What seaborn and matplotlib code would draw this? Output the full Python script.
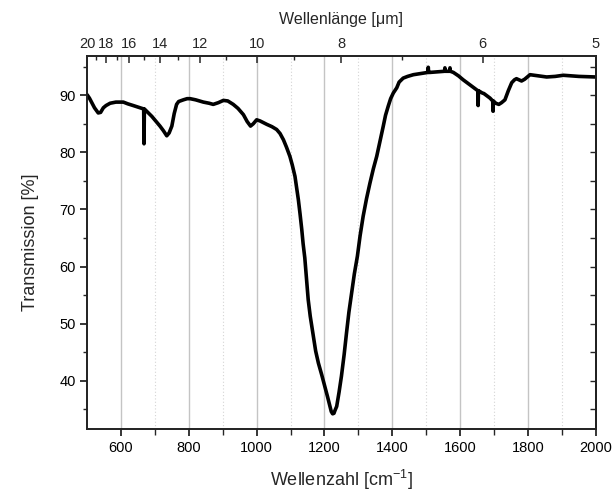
import matplotlib
matplotlib.use("Agg")
import matplotlib.pyplot as plt
import seaborn as sns
import pandas as pd
from matplotlib.ticker import FixedLocator, NullFormatter

# ---------------- data ----------------
wavenumber = [500, 507, 514, 522, 533, 540, 548, 556, 568, 585, 607, 620, 636, 661,
              667, 668, 669, 691, 715, 725, 735, 742, 750, 757, 764, 770, 784, 795,
              804, 820, 843, 860, 872, 887, 902, 915, 931, 945, 961, 972, 982, 990,
              1000, 1010, 1020, 1030, 1045, 1059, 1069, 1079, 1088, 1098, 1105, 1113,
              1118, 1123, 1128, 1133, 1137, 1142, 1147, 1152, 1158, 1167, 1174, 1182,
              1192, 1201, 1209, 1216, 1220, 1224, 1228, 1231, 1236, 1243, 1250, 1258,
              1265, 1272, 1280, 1288, 1297, 1305, 1314, 1324, 1334, 1344, 1354, 1364,
              1373, 1380, 1388, 1395, 1403, 1413, 1420, 1432, 1445, 1462, 1505, 1506,
              1507, 1511, 1554, 1555, 1556, 1560, 1569, 1570, 1571, 1580, 1595, 1609,
              1625, 1648, 1652, 1653, 1654, 1665, 1670, 1688, 1696, 1697, 1698, 1705,
              1714, 1722, 1732, 1742, 1752, 1760, 1766, 1781, 1790, 1806, 1830, 1855,
              1880, 1904, 1950, 2000]
transmission = [90.1, 89.5, 88.7, 87.8, 86.9, 87.0, 87.8, 88.2, 88.6, 88.8, 88.8, 88.5,
                88.2, 87.7, 87.6, 81.5, 87.6, 86.3, 84.6, 83.8, 82.9, 83.4, 84.6, 86.8,
                88.4, 88.9, 89.2, 89.4, 89.4, 89.2, 88.8, 88.6, 88.4, 88.7, 89.1, 89.0,
                88.4, 87.7, 86.6, 85.4, 84.6, 85.0, 85.7, 85.5, 85.2, 84.9, 84.5, 84.0,
                83.3, 82.2, 80.9, 79.3, 77.8, 75.8, 73.8, 71.7, 69.2, 66.5, 64.0, 61.5,
                57.8, 54.2, 51.3, 47.8, 45.2, 43.1, 41.0, 39.0, 37.2, 35.5, 34.6, 34.2,
                34.3, 34.8, 35.5, 38.0, 40.8, 44.6, 48.4, 52.0, 55.4, 58.7, 61.8, 65.4,
                68.8, 71.9, 74.6, 77.1, 79.3, 82.0, 84.5, 86.5, 88.1, 89.4, 90.4, 91.3,
                92.3, 93.0, 93.3, 93.6, 94.0, 94.9, 94.0, 94.0, 94.2, 94.8, 94.2, 94.2,
                94.2, 94.8, 94.2, 94.0, 93.4, 92.7, 92.0, 91.0, 90.8, 88.2, 90.8, 90.4,
                90.3, 89.5, 89.0, 87.2, 89.0, 88.6, 88.4, 88.7, 89.2, 90.8, 92.2, 92.7,
                92.9, 92.5, 92.8, 93.6, 93.4, 93.2, 93.3, 93.5, 93.3, 93.2]

x_major = [600, 800, 1000, 1200, 1400, 1600, 1800, 2000]
x_minor = [700, 900, 1100, 1300, 1500, 1700, 1900]
y_major = [40, 50, 60, 70, 80, 90]
y_minor = [35, 45, 55, 65, 75, 85, 95]
wl_major = [20, 18, 16, 14, 12, 10, 8, 6, 5]
wl_minor = [19, 17, 15, 13, 11, 9, 7]

# ---------------- style ----------------
sns.set_style("ticks")
plt.rcParams["font.family"] = ["Liberation Sans", "DejaVu Sans"]
plt.rcParams["mathtext.fontset"] = "custom"
plt.rcParams["mathtext.rm"] = "Liberation Sans"
plt.rcParams["mathtext.it"] = "Liberation Sans"
plt.rcParams["mathtext.default"] = "rm"

fig = plt.figure(figsize=(6.13, 4.95), dpi=100)
ax = fig.add_axes([0.142, 0.134, 0.830, 0.752])

df = pd.DataFrame({"Wellenzahl": wavenumber, "Transmission": transmission})
sns.lineplot(data=df, x="Wellenzahl", y="Transmission", ax=ax, color="black",
             linewidth=2.6, estimator=None, sort=True, zorder=5)

ax.set_xlim(500, 2000)
ax.set_ylim(31.6, 96.8)

ax.set_xticks(x_major)
ax.xaxis.set_minor_locator(FixedLocator(x_minor))
ax.set_yticks(y_major)
ax.yaxis.set_minor_locator(FixedLocator(y_minor))

ax.xaxis.grid(True, which="major", color="#c4c4c4", linewidth=1.0, zorder=0)
ax.xaxis.grid(True, which="minor", color="#d4d4d4", linewidth=0.8,
              linestyle=(0, (1, 2)), zorder=0)
ax.yaxis.grid(False)
ax.set_axisbelow(True)

ax.tick_params(axis="x", which="major", direction="out", length=5, width=1.1,
               labelsize=10.5, colors="black", pad=4, top=False)
ax.tick_params(axis="x", which="minor", direction="out", length=4, width=1.0, top=False)
ax.tick_params(axis="y", which="major", direction="out", length=5, width=1.1,
               labelsize=10.5, colors="black", pad=3, right=False)
ax.tick_params(axis="y", which="minor", direction="out", length=3, width=1.0, right=False)

for s in ax.spines.values():
    s.set_visible(True)
    s.set_linewidth(1.2)
    s.set_color("black")

ax.set_xlabel("Wellenzahl [cm$^{-1}$]", fontsize=13, labelpad=9)
ax.set_ylabel("Transmission [%]", fontsize=13, labelpad=15)

# right axis: inward ticks, no labels
right = ax.secondary_yaxis("right")
right.set_yticks(y_major)
right.yaxis.set_minor_locator(FixedLocator(y_minor))
right.tick_params(axis="y", which="both", direction="in", length=4, width=1.0,
                  labelright=False)
right.yaxis.set_minor_formatter(NullFormatter())
right.spines["right"].set_linewidth(1.2)

# top axis: wavelength in micrometres
top = ax.twiny()
top.set_xlim(ax.get_xlim())
top.set_xticks([1e4 / w for w in wl_major])
top.set_xticklabels([str(w) for w in wl_major])
top.xaxis.set_minor_locator(FixedLocator([1e4 / w for w in wl_minor]))
top.tick_params(axis="x", which="major", direction="in", length=5, width=1.1,
                labelsize=10.5, pad=4)
top.tick_params(axis="x", which="minor", direction="in", length=3, width=1.0)
top.set_xlabel("Wellenlänge [μm]", fontsize=11.5, labelpad=9)
top.grid(False)
for s in top.spines.values():
    s.set_linewidth(1.2)

fig.savefig("out.png", dpi=100)
